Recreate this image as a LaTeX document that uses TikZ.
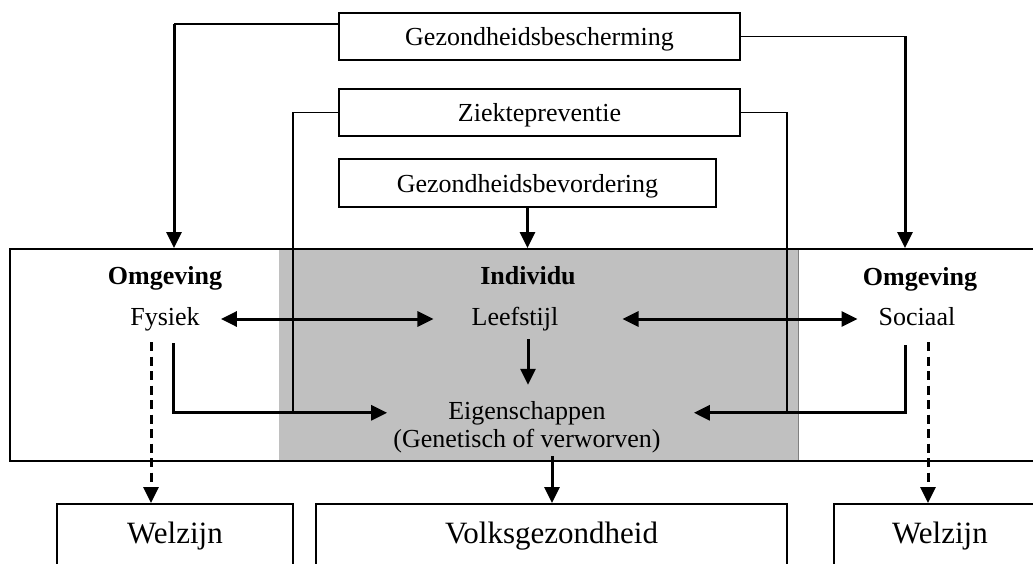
\documentclass[tikz,border=0pt]{standalone}
\usepackage{fontspec}
\setmainfont{Liberation Serif}
\usetikzlibrary{arrows.meta,calc}
\definecolor{midgray}{RGB}{192,192,192}
\tikzset{
  box/.style={draw=black, line width=1.5pt, fill=white, inner sep=0pt},
  toptext/.style={font=\fontsize{26}{30}\selectfont, text depth=0pt},
  bottext/.style={font=\fontsize{31}{36}\selectfont, anchor=north, text height=22pt, text depth=80pt, inner ysep=18pt, inner xsep=0pt},
  lbl/.style={font=\fontsize{26}{30}\selectfont, inner sep=0pt, anchor=base},
  boldlbl/.style={font=\fontsize{26}{30}\selectfont\bfseries, inner sep=0pt, anchor=base},
  thinline/.style={line width=1.3pt},
  arr/.style={line width=3pt, -{Triangle[length=16pt,width=15pt]}},
  dblarr/.style={line width=3pt, {Triangle[length=16pt,width=15pt]}-{Triangle[length=16pt,width=15pt]}},
  dasharr/.style={line width=3pt, dash pattern=on 9pt off 5.5pt, -{Triangle[length=16pt,width=15pt]}},
}
\begin{document}
\begin{tikzpicture}[x=1pt,y=-1pt]
\useasboundingbox (0,0) rectangle (1033,564);
\clip (0,0) rectangle (1033,564);

% central shaded region and main box
\fill[midgray] (279,248) rectangle (798,460);
\draw[gray, line width=0.6pt] (798,248) -- (798,460);
\node[draw, line width=1.5pt, minimum width=1070pt, minimum height=212pt, anchor=north west, inner sep=0pt] (main) at (9,248) {};

% top boxes
\node[box, toptext, minimum width=401pt, minimum height=47pt] (gbs) at (539.5,36.5) {Gezondheidsbescherming};
\node[box, toptext, minimum width=401pt, minimum height=47pt] (zp) at (539.5,112.5) {Ziektepreventie};
\node[box, toptext, minimum width=377pt, minimum height=48pt] (gbv) at (527.5,183) {Gezondheidsbevordering};

% labels inside main box
\node[boldlbl] (omgL) at (165,284) {Omgeving};
\node[lbl] (fys) at (165,325) {Fysiek};
\node[boldlbl] (ind) at (528,284) {Individu};
\node[lbl] (lee) at (515,325) {Leefstijl};
\node[lbl] (eig1) at (527,419) {Eigenschappen};
\node[lbl] (eig2) at (527,447) {(Genetisch of verworven)};
\node[boldlbl] (omgR) at (920,285) {Omgeving};
\node[lbl] (soc) at (917,325) {Sociaal};

% bottom boxes
\node[box, bottext, minimum width=236pt] (w1) at (175,503) {Welzijn};
\node[box, bottext, minimum width=471pt] (vg) at (551.5,503) {Volksgezondheid};
\node[box, bottext, minimum width=212pt] (w2) at (940,503) {Welzijn};

% connectors from Gezondheidsbescherming
\coordinate (gL) at (174,24);
\coordinate (gR) at (905,36.5);
\draw[thinline] (gbs.west |- gL) -- (gL);
\draw[arr] (gL) -- (gL |- main.north);
\draw[thinline] (gbs.east) -- (gR);
\draw[arr] (gR) -- (gR |- main.north);

% connectors from Ziektepreventie
\coordinate (zL) at (293,414);
\coordinate (zR) at (787,414);
\draw[thinline] (zp.west) -| (zL);
\draw[thinline] (zp.east) -| (zR);

% Gezondheidsbevordering -> Individu
\draw[arr] (gbv.south) -- (gbv.south |- main.north);

% horizontal double arrows
\draw[dblarr] ($(fys.base east)+(21,-6)$) -- ($(lee.base west)+(-38,-6)$);
\draw[dblarr] ($(lee.base east)+(64,-6)$) -- ($(soc.base west)+(-21,-6)$);

% Leefstijl -> Eigenschappen
\coordinate (lD) at (528,339);
\draw[arr] (lD) -- ($(eig1.north -| lD)+(0,-16)$);

% Fysiek / Sociaal -> Eigenschappen
\coordinate (fD) at (173,343);
\coordinate (sD) at (905,345);
\draw[arr] (fD) |- ([xshift=-61pt]eig1.west);
\draw[arr] (sD) |- ([xshift=88pt]eig1.east);

% outcomes
\coordinate (dL) at (151,342);
\coordinate (dR) at (928,342);
\coordinate (vT) at (552,456);
\draw[dasharr] (dL) -- (dL |- w1.north);
\draw[dasharr] (dR) -- (dR |- w2.north);
\draw[arr] (vT) -- (vT |- vg.north);
\end{tikzpicture}
\end{document}
